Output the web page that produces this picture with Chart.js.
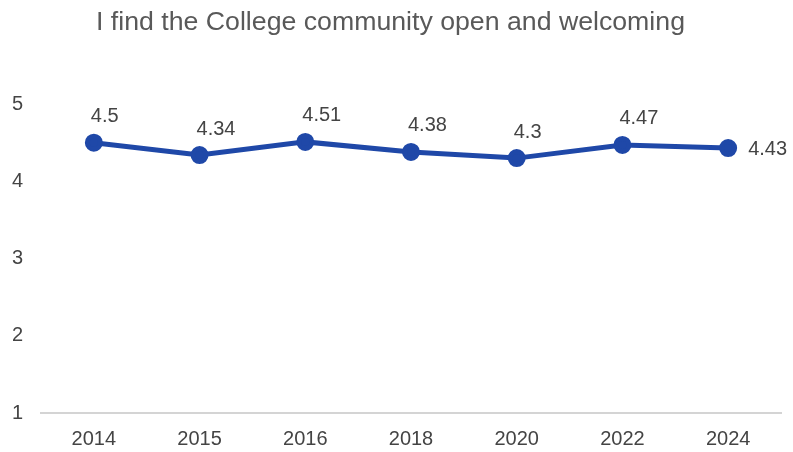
<!DOCTYPE html>
<html>
<head>
<meta charset="utf-8">
<script src="https://cdn.jsdelivr.net/npm/chart.js@4/dist/chart.umd.min.js"></script>
<style>
  html, body { margin:0; padding:0; background:#fff; }
  #wrap { width:793px; height:452px; }
</style>
</head>
<body>
<div id="wrap"><canvas id="chart"></canvas></div>
<script>
const TITLE  = 'I find the College community open and welcoming';
const YEARS  = ['2014', '2015', '2016', '2018', '2020', '2022', '2024'];
const SCORES = [4.5, 4.34, 4.51, 4.38, 4.3, 4.47, 4.43];
const Y_TICKS = [1, 2, 3, 4, 5];

const LINE_COLOR = '#1f48a8';
const TEXT_COLOR = '#444444';
const FONT = "Arial, 'Liberation Sans', sans-serif";

// value labels: above-right of each point, last one sits to the right
const valueLabels = {
  id: 'valueLabels',
  afterDatasetsDraw(chart) {
    const ctx = chart.ctx;
    const pts = chart.getDatasetMeta(0).data;
    const vals = chart.data.datasets[0].data;
    ctx.save();
    ctx.font = '20px ' + FONT;
    ctx.fillStyle = TEXT_COLOR;
    ctx.textBaseline = 'middle';
    ctx.textAlign = 'left';
    pts.forEach((p, i) => {
      const last = i === pts.length - 1;
      if (last) ctx.fillText(String(vals[i]), p.x + 20, p.y + 1);
      else ctx.fillText(String(vals[i]), p.x - 3, p.y - 26);
    });
    ctx.restore();
  }
};

new Chart(document.getElementById('chart'), {
  type: 'line',
  data: {
    labels: YEARS,
    datasets: [{
      data: SCORES,
      borderColor: LINE_COLOR,
      backgroundColor: LINE_COLOR,
      borderWidth: 5,
      pointRadius: 6.5,
      pointHoverRadius: 6.5,
      tension: 0,
      fill: false,
    }]
  },
  options: {
    responsive: true,
    maintainAspectRatio: false,
    animation: false,
    layout: { padding: { left: 0, right: 12, top: 0, bottom: 0 } },
    plugins: {
      legend: { display: false },
      tooltip: { enabled: false },
      title: {
        display: true,
        text: TITLE,
        color: '#595959',
        font: { family: FONT, size: 26.7, weight: 'normal' },
        padding: { top: 7, bottom: 65 },
      },
    },
    scales: {
      x: {
        offset: true,
        grid: { display: false },
        border: { display: true, color: '#d4d4d4', width: 2 },
        ticks: { color: TEXT_COLOR, font: { family: FONT, size: 20 }, padding: 6, maxRotation: 0 },
        afterFit(s) { s.height = 39; },
      },
      y: {
        min: 1, max: 5,
        afterBuildTicks(s) { s.ticks = Y_TICKS.map(v => ({ value: v })); },
        grid: { display: false },
        border: { display: false },
        ticks: { color: TEXT_COLOR, font: { family: FONT, size: 20 }, padding: 10 },
        afterFit(s) { s.width = 41; },
      },
    },
  },
  plugins: [valueLabels],
});
</script>
</body>
</html>
